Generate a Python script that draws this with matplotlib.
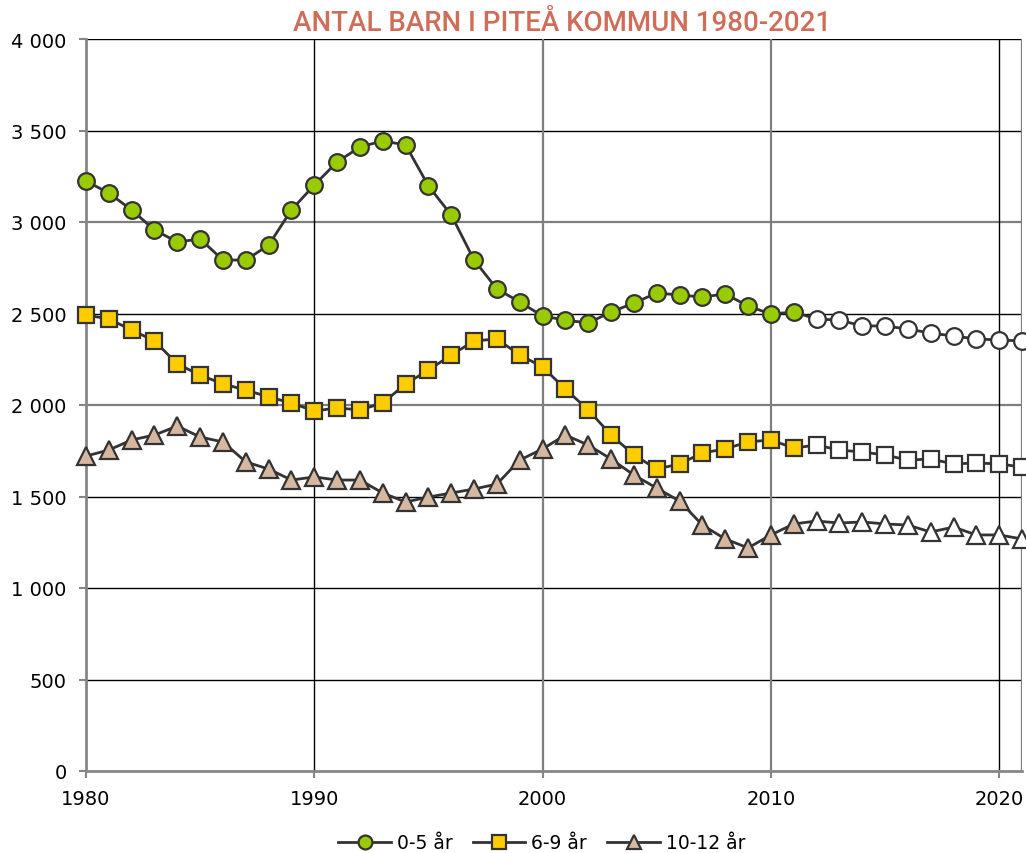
import matplotlib
matplotlib.use("Agg")
import matplotlib.pyplot as plt
from matplotlib.lines import Line2D

years = list(range(1980, 2022))
n_actual = 32  # 1980-2011 filled, 2012-2021 open (prognos)

age_0_5 = [3224, 3158, 3066, 2956, 2891, 2907, 2792, 2792, 2874, 3066,
           3202, 3328, 3410, 3443, 3421, 3197, 3038, 2792, 2634, 2563,
           2486, 2464, 2448, 2508, 2557, 2612, 2601, 2590, 2607, 2541,
           2497, 2508, 2470, 2464, 2432, 2432, 2415, 2393, 2377, 2361,
           2355, 2350]
age_6_9 = [2492, 2470, 2410, 2350, 2224, 2164, 2115, 2082, 2044, 2011,
           1967, 1984, 1973, 2011, 2115, 2191, 2273, 2350, 2361, 2273,
           2208, 2087, 1973, 1836, 1727, 1650, 1678, 1738, 1760, 1798,
           1809, 1765, 1781, 1754, 1743, 1727, 1699, 1705, 1678, 1683,
           1678, 1661]
age_10_12 = [1721, 1754, 1809, 1836, 1885, 1825, 1798, 1689, 1650, 1590,
             1607, 1590, 1590, 1519, 1470, 1497, 1519, 1541, 1568, 1699,
             1760, 1836, 1781, 1705, 1617, 1546, 1475, 1344, 1268, 1219,
             1290, 1350, 1366, 1355, 1361, 1350, 1344, 1306, 1333, 1290,
             1290, 1268]

series_labels = ["0-5 år", "6-9 år", "10-12 år"]
series_colors = ["#99CC00", "#FFCC00", "#D5B89F"]
series_markers = ["o", "s", "^"]
title = "ANTAL BARN I PITEÅ KOMMUN 1980-2021"
y_ticks = [0, 500, 1000, 1500, 2000, 2500, 3000, 3500, 4000]
y_ticklabels = ["0", "500", "1 000", "1 500", "2 000", "2 500", "3 000", "3 500", "4 000"]
x_ticks = [1980, 1990, 2000, 2010, 2020]

fig = plt.figure(figsize=(10.26, 8.54), dpi=100)
ax = fig.add_axes([86/1026, 1-772/854, (1022-86)/1026, (772-40)/854])
ax.set_xlim(1980, 2021)
ax.set_ylim(0, 4000)

# grid lines
hcol = {500: "black", 1000: "black", 1500: "black", 2000: "#7f7f7f",
        2500: "black", 3000: "#7f7f7f", 3500: "black", 4000: "black"}
for yv, c in hcol.items():
    ax.axhline(yv, color=c, lw=1.0 if c == "black" else 1.6, zorder=1)
vcol = {1990: "black", 2000: "#7f7f7f", 2010: "#7f7f7f", 2020: "black"}
for xv, c in vcol.items():
    ax.axvline(xv, color=c, lw=1.0 if c == "black" else 1.6, zorder=1)
ax.axvline(2021, color="#7f7f7f", lw=1.6, zorder=1)

edge = "#333333"
msizes = [12, 12, 12.5]
for vals, col, mk, lab, ms in zip([age_0_5, age_6_9, age_10_12], series_colors,
                                  series_markers, series_labels, msizes):
    ax.plot(years, vals, color=edge, lw=2.0, zorder=3, clip_on=False)
    ax.plot(years[:n_actual], vals[:n_actual], ls="none", marker=mk, ms=ms,
            mfc=col, mec=edge, mew=1.6, zorder=4, clip_on=False)
    ax.plot(years[n_actual:], vals[n_actual:], ls="none", marker=mk, ms=ms,
            mfc="white", mec=edge, mew=1.6, zorder=4, clip_on=False)

for s in ["top", "right"]:
    ax.spines[s].set_visible(False)
for s in ["left", "bottom"]:
    ax.spines[s].set_color("#868686")
    ax.spines[s].set_linewidth(2.0)
    ax.spines[s].set_zorder(2)

ax.set_yticks(y_ticks)
ax.set_yticklabels(y_ticklabels)
ax.set_xticks(x_ticks)
ax.set_xticklabels([str(x) for x in x_ticks])
ax.tick_params(axis="both", direction="out", length=5, width=1.5, color="#868686",
               labelsize=14, labelcolor="black")
ax.tick_params(axis="y", pad=9)
ax.tick_params(axis="x", pad=8)
for t in ax.get_xticklabels() + ax.get_yticklabels():
    t.set_fontfamily("DejaVu Sans")

fig.text(0.548, 0.973, title, ha="center", va="center", color="#CF6D58",
         fontsize=20, fontweight="medium", family=["Roboto", "Liberation Sans"])

handles = [Line2D([], [], color=edge, lw=2.0, marker=m, ms=10, mfc=c, mec=edge, mew=1.6)
           for m, c in zip(series_markers, series_colors)]
fig.legend(handles, series_labels, loc="center", bbox_to_anchor=(0.528, 0.012),
           ncol=3, frameon=False, handlelength=2.8, columnspacing=1.1,
           handletextpad=0.3, prop={"family": "DejaVu Sans", "size": 13.5})

fig.savefig("out.png", dpi=100)
